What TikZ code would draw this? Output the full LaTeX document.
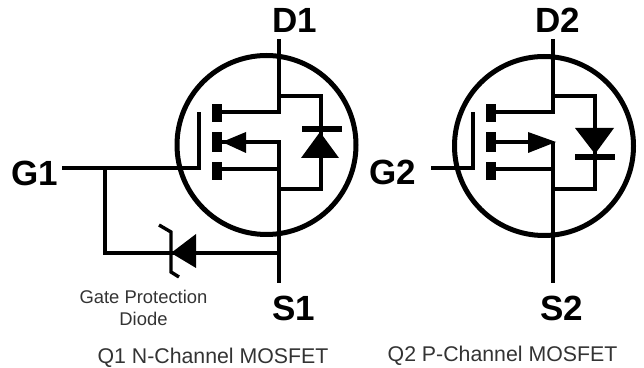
\documentclass[tikz,border=0pt]{standalone}
\usepackage{fontspec}
\setmainfont{Liberation Sans}
\usepackage[usenames]{xcolor}
\usetikzlibrary{shapes,arrows}
\definecolor{captioncol}{rgb}{0.2,0.2,0.2}
\tikzset{
  wire/.style={line width=3.4bp,line join=miter,line cap=butt},
  plate/.style={line width=6bp},
  ring/.style={draw,circle,line width=5bp,inner sep=0pt,outer sep=0pt,minimum size=179bp},
  pad/.style={fill=black,rectangle,inner sep=0pt,outer sep=0pt,minimum width=10bp,minimum height=18bp},
  padmid/.style={pad,minimum height=20bp},
  pin/.style={inner sep=0pt,font=\fontsize{35bp}{35bp}\selectfont\bfseries},
  caption/.style={inner sep=0pt,text=captioncol,font=\fontsize{21.3bp}{24bp}\selectfont},
  note/.style={inner sep=0pt,align=center,text=captioncol,font=\fontsize{18.4bp}{22bp}\selectfont},
}
\begin{document}
\begin{tikzpicture}[>=latex,line join=bevel,]
\useasboundingbox (0bp,0bp) rectangle (644bp,368bp);
%% Q1
  \node (ringa) at (266.5bp,223bp) [ring] {};
  \node (da) at (295bp,348bp) [pin] {D1};
  \node (ga) at (34.5bp,195bp) [pin] {G1};
  \node (sa) at (294bp,60bp) [pin] {S1};
  \node (notea) at (143.5bp,60bp) [note] {Gate Protection\\Diode};
  \node (capa) at (213bp,10bp) [caption] {Q1 N-Channel MOSFET};
  \node (padatop) at (217bp,255bp) [pad] {};
  \node (padamid) at (217bp,226bp) [padmid] {};
  \node (padabot) at (217bp,197bp) [pad] {};
  \coordinate (datop) at (279bp,329bp);
  \coordinate (dain) at (279bp,256bp);
  \coordinate (damid) at (279bp,226bp);
  \coordinate (daend) at (279bp,85bp);
  \coordinate (dabot) at (279bp,199bp);
  \coordinate (bodya1) at (279bp,272bp);
  \coordinate (bodya2) at (321bp,272bp);
  \coordinate (bodya3) at (321bp,179bp);
  \coordinate (bodya4) at (279bp,179bp);
  \coordinate (gastart) at (62bp,200bp);
  \coordinate (gatee) at (105bp,200bp);
  \coordinate (gacorner) at (199bp,200bp);
  \coordinate (gatop) at (199bp,256bp);
  \coordinate (zleft) at (105bp,115bp);
  \coordinate (zright) at (279bp,115bp);
  \draw [wire] (datop) -- (dain) -- (padatop.center |- dain);
  \draw [wire] (padamid) -- (damid) -- (daend);
  \draw [wire] (padabot.center |- dabot) -- (dabot);
  \draw [wire] (bodya1) -- (bodya2) -- (bodya3) -- (bodya4);
  \draw [wire] (gastart) -- (gacorner) -- (gatop);
  \draw [wire] (gatee) -- (zleft) -- (zright);
  \fill (222bp,226bp) -- (246bp,236bp) -- (246bp,215bp) -- cycle;
  \fill (320bp,236bp) -- (301bp,210bp) -- (339bp,210bp) -- cycle;
  \draw [plate] (302bp,239bp) -- (342bp,239bp);
  \fill (171bp,115bp) -- (196bp,134bp) -- (196bp,100bp) -- cycle;
  \draw [wire] (159bp,143bp) -- (171bp,136bp) -- (171bp,96bp) -- (179bp,91bp);
%% Q2
  \node (ringb) at (544bp,222bp) [ring] {};
  \node (db) at (558bp,348bp) [pin] {D2};
  \node (gb) at (393bp,196bp) [pin] {G2};
  \node (sb) at (561.5bp,60bp) [pin] {S2};
  \node (capb) at (502.5bp,12bp) [caption] {Q2 P-Channel MOSFET};
  \node (padbtop) at (491bp,255bp) [pad] {};
  \node (padbmid) at (491bp,226bp) [padmid] {};
  \node (padbbot) at (491bp,197bp) [pad] {};
  \coordinate (dbtop) at (553bp,329bp);
  \coordinate (dbin) at (553bp,256bp);
  \coordinate (dbmid) at (553bp,226bp);
  \coordinate (dbend) at (553bp,85bp);
  \coordinate (dbbot) at (553bp,199bp);
  \coordinate (bodyb1) at (553bp,272bp);
  \coordinate (bodyb2) at (595bp,272bp);
  \coordinate (bodyb3) at (595bp,179bp);
  \coordinate (bodyb4) at (553bp,179bp);
  \coordinate (gbstart) at (431bp,200bp);
  \coordinate (gbcorner) at (473bp,200bp);
  \coordinate (gbtop) at (473bp,256bp);
  \draw [wire] (dbtop) -- (dbin) -- (padbtop.center |- dbin);
  \draw [wire] (padbmid) -- (530bp,226bp);
  \draw [wire] (dbmid) -- (dbend);
  \draw [wire] (padbbot.center |- dbbot) -- (dbbot);
  \draw [wire] (bodyb1) -- (bodyb2) -- (bodyb3) -- (bodyb4);
  \draw [wire] (gbstart) -- (gbcorner) -- (gbtop);
  \fill (556bp,226bp) -- (528bp,236bp) -- (528bp,215bp) -- cycle;
  \fill (595bp,214bp) -- (575bp,240bp) -- (614bp,240bp) -- cycle;
  \draw [plate] (575bp,211bp) -- (615bp,211bp);
%
\end{tikzpicture}
\end{document}
